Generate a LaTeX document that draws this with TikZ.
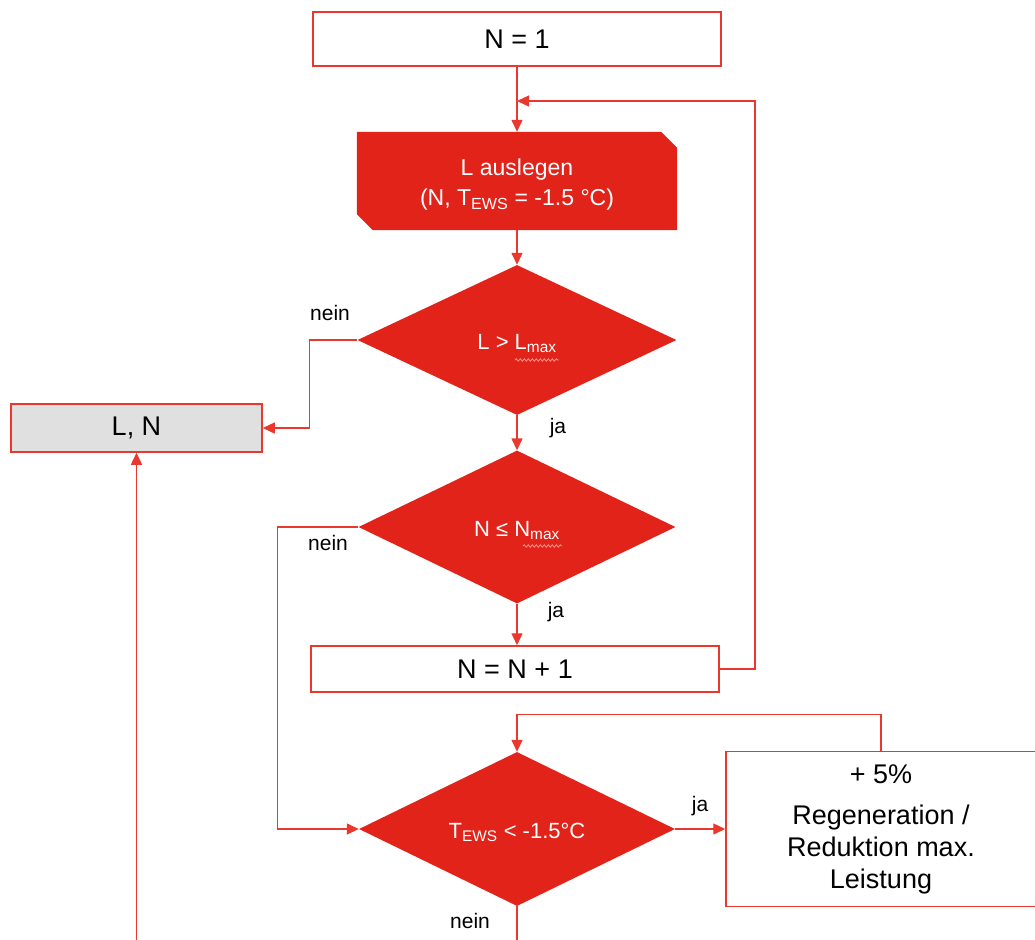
\documentclass[tikz,border=0pt]{standalone}
\usepackage{fontspec}
\setmainfont{Liberation Sans}
\usetikzlibrary{arrows.meta,shapes.geometric,backgrounds,calc,decorations.pathmorphing}
\definecolor{fred}{RGB}{226,35,26}
\definecolor{lred}{RGB}{234,56,46}
\definecolor{lgray}{RGB}{224,224,224}
\definecolor{wavy}{RGB}{242,150,140}
\begin{document}
\begin{tikzpicture}[x=1pt,y=-1pt,
  line/.style={draw=lred,line width=1.4pt},
  arr/.style={line,-{Triangle[length=12pt,width=11pt]}},
  box/.style={draw=lred,line width=1.5pt,fill=white,rectangle,inner sep=0pt,font=\fontsize{27}{32}\selectfont},
  dec/.style={diamond,aspect=2,fill=fred,inner sep=0pt,text=white,font=\fontsize{22}{26}\selectfont,text height=22pt,text depth=4pt},
  lab/.style={font=\fontsize{21}{25}\selectfont,inner sep=0pt},
  squig/.style={draw=wavy,line width=0.8pt,decorate,decoration={snake,amplitude=1.2pt,segment length=4pt}}]
\useasboundingbox (0,0) rectangle (1035,939);
\node[box,minimum width=408pt,minimum height=54pt] (n1) at (517,39) {N = 1};
\node[rectangle,inner sep=0pt,minimum width=320pt,minimum height=98pt,text=white,align=center,font=\fontsize{23}{30}\selectfont] (la) at (517,181) {\rule{0pt}{24pt}L auslegen\\(N, T\textsubscript{EWS} = -1.5 °C)};
\begin{pgfonlayer}{background}
\fill[fred] (la.north west) -- ([xshift=-16pt]la.north east) -- ([yshift=-16pt]la.north east) -- (la.south east) -- ([xshift=16pt]la.south west) -- ([yshift=16pt]la.south west) -- cycle;
\end{pgfonlayer}
\node[dec,minimum width=319pt,minimum height=150pt] (d1) at (517,340) {L > L\textsubscript{max}};
\node[box,fill=lgray,minimum width=251pt,minimum height=48pt] (ln) at (136.5,428) {L, N};
\node[dec,minimum width=317pt,minimum height=153pt] (d2) at (517,527) {N ≤ N\textsubscript{max}};
\node[box,minimum width=408pt,minimum height=46pt] (nn) at (515,669) {N = N + 1};
\node[dec,minimum width=316pt,minimum height=154pt] (d3) at (517,829) {T\textsubscript{EWS} < -1.5°C};
\node[box,minimum width=310pt,minimum height=155pt,align=center,font=\fontsize{27}{32}\selectfont] (rb) at (881,829) {+ 5\%\\[9pt]Regeneration /\\Reduktion max.\\Leistung};
\coordinate (j1) at (517,101);
\coordinate (r1) at (755,101);
\coordinate (e1) at (517,945);
\coordinate (e2) at (136.5,945);
\draw[squig] (515,360) -- (559,360);
\draw[squig] (523,546) -- (562,546);
\draw[arr] (n1.south -| la.north) -- (la.north);
\draw[arr] (nn.east) -| (r1) -- (j1);
\draw[arr] (la.south) -- (d1.north);
\draw[arr] (d1.west) -- ++(-48,0) |- (ln.east);
\draw[arr] (d1.south) -- (d2.north);
\draw[arr] (d2.west) -- ++(-81,0) |- (d3.west);
\draw[arr] (d2.south) -- (d2.south |- nn.north);
\draw[arr] (d3.east) -- (rb.west);
\draw[arr] (rb.north) -- ++(0,-36) -| (d3.north);
\draw[line] (d3.south) -- (e1);
\draw[arr] (e2) -- (ln.south);
\node[lab] (t1) at (330,313) {nein};
\node[lab] (t2) at (558,428) {ja};
\node[lab] (t3) at (328,543) {nein};
\node[lab] (t4) at (556,612) {ja};
\node[lab] (t5) at (700,806) {ja};
\node[lab] (t6) at (470,921) {nein};
\end{tikzpicture}
\end{document}
